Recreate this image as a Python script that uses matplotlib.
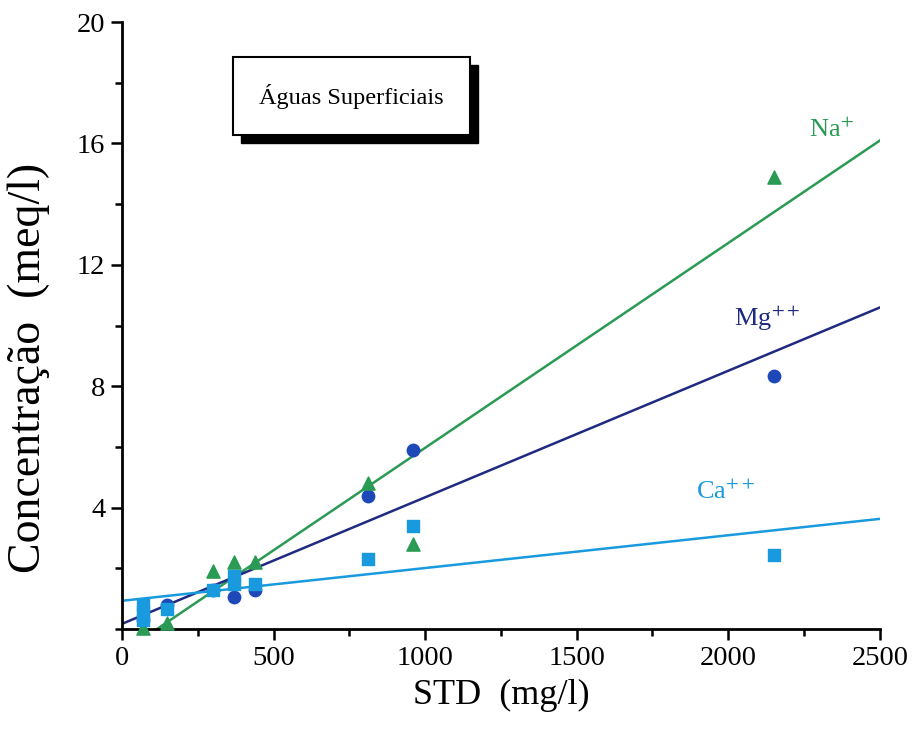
import numpy as np
import matplotlib.pyplot as plt
from matplotlib.patches import Rectangle
from matplotlib.ticker import MultipleLocator

plt.rcParams['font.family'] = ['Liberation Serif', 'DejaVu Serif']
plt.rcParams['mathtext.fontset'] = 'stix'

# dados (STD em mg/l, concentrações em meq/l)
std_na = [70, 150, 300, 370, 440, 810, 960, 2150]
na = [0.05, 0.2, 1.9, 2.2, 2.2, 4.8, 2.8, 14.9]

std_mg = [70, 150, 300, 370, 440, 810, 960, 2150]
mg = [0.3, 0.8, 1.3, 1.05, 1.3, 4.4, 5.9, 8.35]

std_ca = [70, 70, 70, 150, 300, 370, 370, 440, 810, 960, 2150]
ca = [0.3, 0.55, 0.8, 0.65, 1.3, 1.5, 1.75, 1.5, 2.3, 3.4, 2.45]

# retas de ajuste (coef. angular, intercepto)
reta_na = (0.00675, -0.78)
reta_mg = (0.00417, 0.17)
reta_ca = (0.00108, 0.93)

cor_na = '#2a9a55'
cor_mg_linha = '#1f2a80'
cor_mg = '#1e48b8'
cor_ca = '#1a9ade'

fig = plt.figure(figsize=(9.13, 7.37), dpi=100)
ax = fig.add_axes([0.1336, 0.1465, 0.830, 0.8235])

xs = np.array([0, 2500])
xs_na = np.array([-reta_na[1] / reta_na[0], 2500])
ax.plot(xs_na, reta_na[0] * xs_na + reta_na[1], color=cor_na, lw=1.8, zorder=2)
ax.plot(xs, reta_mg[0] * xs + reta_mg[1], color=cor_mg_linha, lw=1.8, zorder=2)
ax.plot(xs, reta_ca[0] * xs + reta_ca[1], color=cor_ca, lw=1.8, zorder=2)

ax.scatter(std_mg, mg, marker='o', s=80, color=cor_mg, zorder=3, clip_on=False)
ax.scatter(std_ca, ca, marker='s', s=70, color=cor_ca, zorder=4, clip_on=False)
ax.scatter(std_na, na, marker='^', s=90, color=cor_na, zorder=3, clip_on=False)

ax.text(2265, 16.2, 'Na$^{+}$', color=cor_na, fontsize=19)
ax.text(2020, 10.0, 'Mg$^{++}$', color=cor_mg_linha, fontsize=19)
ax.text(1895, 4.3, 'Ca$^{++}$', color=cor_ca, fontsize=19)

ax.set_xlim(0, 2500)
ax.set_ylim(0, 20)
ax.xaxis.set_major_locator(MultipleLocator(500))
ax.xaxis.set_minor_locator(MultipleLocator(250))
ax.yaxis.set_major_locator(MultipleLocator(4))
ax.yaxis.set_minor_locator(MultipleLocator(2))
ax.set_yticks([4, 8, 12, 16, 20])
ax.tick_params(which='major', length=8, width=1.8, labelsize=20.5, pad=4)
ax.tick_params(which='minor', length=5, width=1.8)
for s in ['top', 'right']:
    ax.spines[s].set_visible(False)
for s in ['left', 'bottom']:
    ax.spines[s].set_linewidth(2)

ax.set_xlabel('STD  (mg/l)', fontsize=26, labelpad=6)
ax.set_ylabel('Concentração  (meq/l)', fontsize=33, labelpad=4)
ax.yaxis.set_label_coords(-0.095, 0.43)

# caixa de título com sombra
ax.add_patch(Rectangle((0.157, 0.801), 0.313, 0.128, transform=ax.transAxes,
                       facecolor='black', edgecolor='black', zorder=5))
ax.add_patch(Rectangle((0.146, 0.814), 0.313, 0.128, transform=ax.transAxes,
                       facecolor='white', edgecolor='black', lw=1.5, zorder=6))
ax.text(0.3025, 0.878, 'Águas Superficiais', transform=ax.transAxes,
        ha='center', va='center', fontsize=17.5, zorder=7)

fig.savefig('out.png', dpi=100)
